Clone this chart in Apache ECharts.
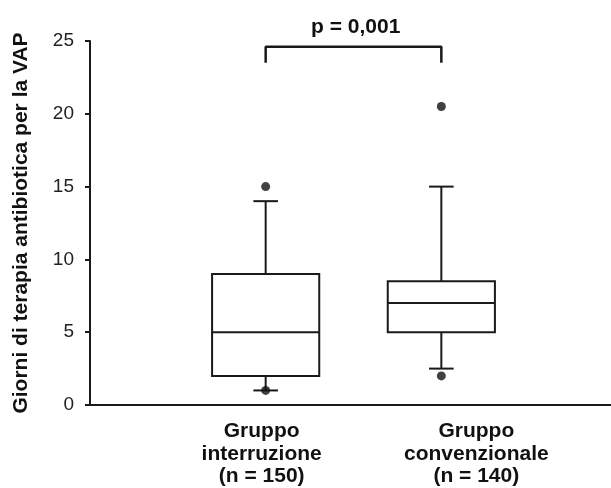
<!DOCTYPE html>
<html>
<head>
  <meta charset="utf-8" />
  <title>Giorni di terapia antibiotica per la VAP</title>
  <style>
    html, body { margin: 0; padding: 0; background: #fff; }
    #main { width: 611px; height: 488px; }
  </style>
</head>
<body>
  <div id="main"></div>
  <script src="https://cdn.jsdelivr.net/npm/echarts@6/dist/echarts.min.js"></script>
  <script>
    // categorie (le due vuote fanno solo spazio ai lati)
    var categories = ['', 'Gruppo\ninterruzione\n(n = 150)', 'Gruppo\nconvenzionale\n(n = 140)', ''];
    var groupIndex = [1, 2];
    var whiskerLow = [1, 2.5];
    var q1Values = [2, 5];
    var medianValues = [5, 7];
    var q3Values = [9, 8.5];
    var whiskerHigh = [14, 15];
    // outlier: [indice gruppo, valore]
    var outliers = [[1, 15], [1, 1], [2, 20.5], [2, 2]];
    // parentesi del p-value
    var bracketLow = 23.5;
    var bracketHigh = 24.6;
    var pLabel = 'p = 0,001';
    var yMin = 0, yMax = 25, yStep = 5;

    var fontFamily = 'Liberation Sans, Arial, sans-serif';
    var lineColor = '#1a1a1a';

    var boxData = [];
    for (var i = 0; i < groupIndex.length; i++) {
      boxData.push([groupIndex[i], whiskerLow[i], q1Values[i], medianValues[i], q3Values[i], whiskerHigh[i]]);
    }
    var bracketData = [
      [groupIndex[0], bracketLow], [groupIndex[0], bracketHigh],
      [groupIndex[1], bracketHigh], [groupIndex[1], bracketLow]
    ];

    // etichette: nell'originale non sono perfettamente centrate sui box
    var labelPads = [[0, 0, 0, 0], [0, 8, 0, 0], [0, 0, 0, 70], [0, 0, 0, 0]];
    var axisData = categories.map(function (c, idx) {
      return { value: c, textStyle: { padding: labelPads[idx] } };
    });

    function renderBox(params, api) {
      var x = api.value(0);
      var pLow = api.coord([x, api.value(1)]);
      var pQ1 = api.coord([x, api.value(2)]);
      var pMed = api.coord([x, api.value(3)]);
      var pQ3 = api.coord([x, api.value(4)]);
      var pHigh = api.coord([x, api.value(5)]);
      var band = api.size([1, 0])[0];
      var halfW = band * 0.305;
      var capW = band * 0.07;
      var cx = pMed[0];
      var st = { stroke: lineColor, lineWidth: 2, fill: null };
      return {
        type: 'group',
        children: [
          { type: 'line', shape: { x1: cx, y1: pQ3[1], x2: cx, y2: pHigh[1] }, style: st },
          { type: 'line', shape: { x1: cx - capW, y1: pHigh[1], x2: cx + capW, y2: pHigh[1] }, style: st },
          { type: 'line', shape: { x1: cx, y1: pQ1[1], x2: cx, y2: pLow[1] }, style: st },
          { type: 'line', shape: { x1: cx - capW, y1: pLow[1], x2: cx + capW, y2: pLow[1] }, style: st },
          {
            type: 'rect',
            shape: { x: cx - halfW, y: pQ3[1], width: halfW * 2, height: pQ1[1] - pQ3[1] },
            style: { stroke: lineColor, lineWidth: 2, fill: '#fff' }
          },
          { type: 'line', shape: { x1: cx - halfW, y1: pMed[1], x2: cx + halfW, y2: pMed[1] }, style: st }
        ]
      };
    }

    var myChart = echarts.init(document.getElementById('main'));
    var option = {
      animation: false,
      title: {
        text: pLabel,
        left: 306,
        top: 12,
        textStyle: { fontFamily: fontFamily, fontSize: 21, fontWeight: 'bold', color: '#111' }
      },
      grid: { left: 90, top: 41, width: 527, height: 364, outerBoundsMode: 'none' },
      xAxis: {
        type: 'category',
        data: axisData,
        boundaryGap: false,
        axisLine: { lineStyle: { color: lineColor, width: 2 } },
        axisTick: { show: false },
        splitLine: { show: false },
        axisLabel: {
          interval: 0,
          margin: 15,
          fontFamily: fontFamily,
          fontSize: 21,
          fontWeight: 'bold',
          lineHeight: 22.5,
          color: '#111'
        }
      },
      yAxis: {
        type: 'value',
        min: yMin,
        max: yMax,
        interval: yStep,
        name: 'Giorni di terapia antibiotica per la VAP',
        nameLocation: 'middle',
        nameGap: 58,
        nameTextStyle: { fontFamily: fontFamily, fontSize: 21, fontWeight: 'bold', color: '#111' },
        axisLine: { show: true, lineStyle: { color: lineColor, width: 2 } },
        axisTick: { show: true, length: 5, lineStyle: { color: lineColor, width: 2 } },
        splitLine: { show: false },
        axisLabel: {
          margin: 16,
          padding: [10, 0, 0, 0],
          fontFamily: fontFamily,
          fontSize: 19,
          color: '#222'
        }
      },
      series: [{
        type: 'custom',
        renderItem: renderBox,
        encode: { x: 0, y: [1, 2, 3, 4, 5] },
        data: boxData,
        z: 2
      }, {
        type: 'scatter',
        data: outliers,
        symbolSize: 9,
        itemStyle: { color: '#111' },
        z: 3
      }, {
        type: 'line',
        data: bracketData,
        symbol: 'none',
        lineStyle: { color: lineColor, width: 2.5 },
        z: 3
      }]
    };
    myChart.setOption(option);
  </script>
</body>
</html>
